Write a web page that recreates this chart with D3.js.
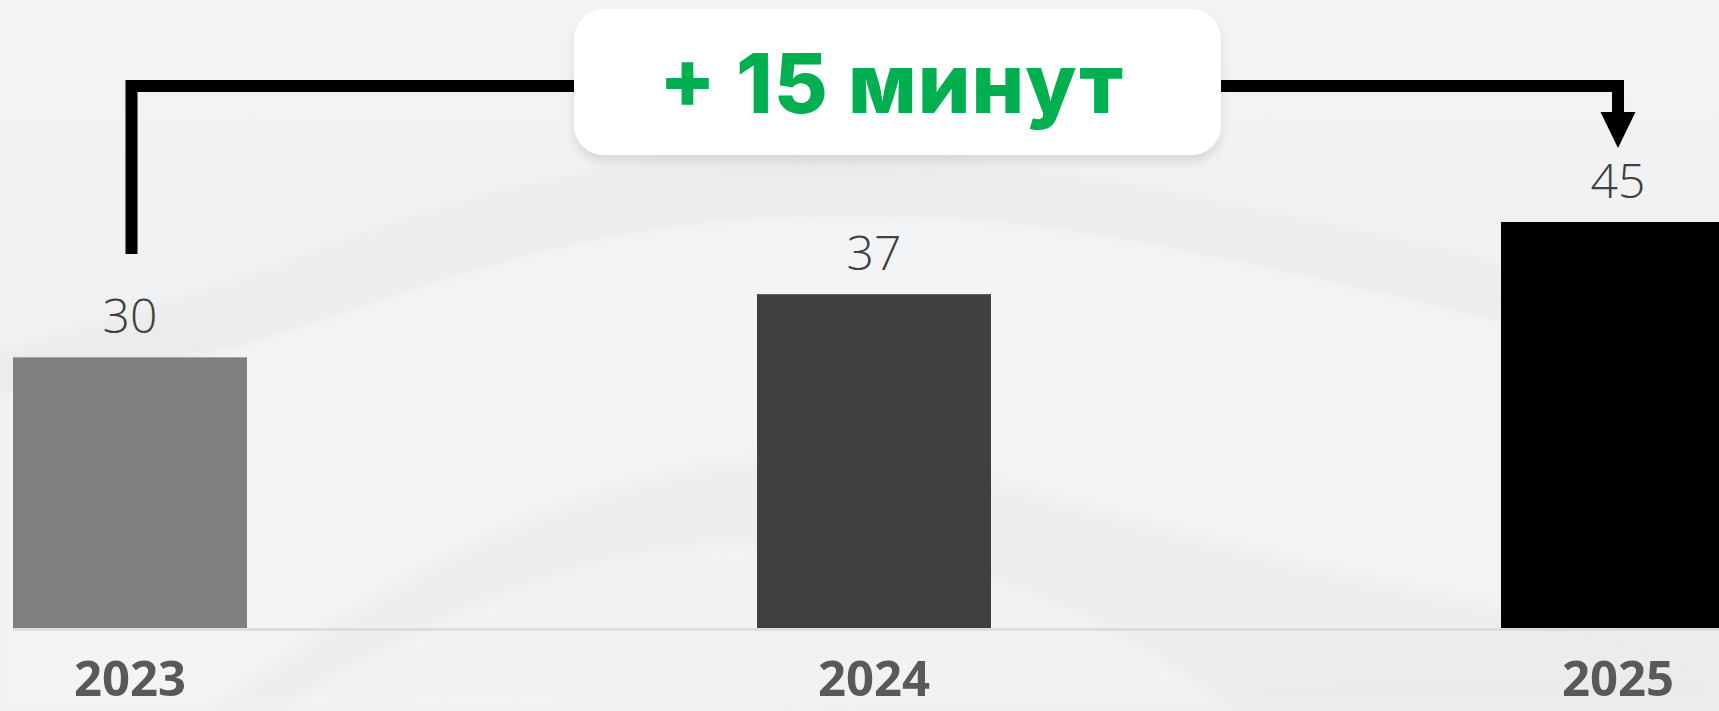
<!DOCTYPE html>
<html>
<head>
<meta charset="utf-8">
<script src="https://cdn.jsdelivr.net/npm/d3@7"></script>
<style>
  html, body { margin: 0; padding: 0; background: #eef0f1; overflow: hidden; }
  svg { display: block; }
</style>
</head>
<body>
<div id="chart"></div>
<script>
// Screen time growth, minutes per day by year
const years = ["2023", "2024", "2025"];
const minutes = [30, 37, 45];
const barColors = ["#7f7f7f", "#404040", "#000000"];
const deltaLabel = "+ 15 минут";

const width = 1719, height = 711;
const baseY = 628;

const svg = d3.select("#chart")
  .append("svg")
  .attr("width", width)
  .attr("height", height);

const defs = svg.append("defs");

const bgGrad = defs.append("linearGradient")
  .attr("id", "bg")
  .attr("x1", 0).attr("y1", 0).attr("x2", 0).attr("y2", 1);
bgGrad.append("stop").attr("offset", "0%").attr("stop-color", "#f2f3f4");
bgGrad.append("stop").attr("offset", "100%").attr("stop-color", "#edeef0");

const shadow = defs.append("filter")
  .attr("id", "shadow")
  .attr("x", "-10%").attr("y", "-20%")
  .attr("width", "120%").attr("height", "150%");
shadow.append("feDropShadow")
  .attr("dx", 0).attr("dy", 7)
  .attr("stdDeviation", 5)
  .attr("flood-color", "#000")
  .attr("flood-opacity", 0.1);

const blur = defs.append("filter").attr("id", "soft");
blur.append("feGaussianBlur").attr("stdDeviation", 6);

// Background with soft waves
svg.append("rect")
  .attr("width", width).attr("height", height)
  .attr("fill", "url(#bg)");

const wave = d3.line().curve(d3.curveBasis);
const waves = [
  { pts: [[0, 0.5], [0.12, 0.42], [0.28, 0.26], [0.45, 0.2], [0.62, 0.24], [0.8, 0.33], [1, 0.44], [1, 1], [0, 1]], fill: "#e7e9eb", op: 0.6 },
  { pts: [[0, 0.56], [0.14, 0.5], [0.32, 0.33], [0.5, 0.29], [0.66, 0.33], [0.85, 0.44], [1, 0.52], [1, 1], [0, 1]], fill: "#f5f6f7", op: 0.85 },
  { pts: [[0.12, 1], [0.22, 0.82], [0.36, 0.66], [0.5, 0.62], [0.62, 0.7], [0.8, 0.82], [1, 0.9], [1, 1]], fill: "#e8eaec", op: 0.5 },
  { pts: [[0.16, 1], [0.26, 0.86], [0.38, 0.76], [0.5, 0.76], [0.62, 0.84], [0.72, 1]], fill: "#f3f4f5", op: 0.7 }
];
waves.forEach(w => {
  svg.append("path")
    .attr("d", wave(w.pts.map(p => [p[0] * width, p[1] * height])) + "Z")
    .attr("fill", w.fill)
    .attr("opacity", w.op)
    .attr("filter", "url(#soft)");
});

// Scales
const x = d3.scaleBand()
  .domain(years)
  .range([13, 1735])
  .paddingInner(0.6855)
  .paddingOuter(0);

const y = d3.scaleLinear()
  .domain([0, 45])
  .range([baseY, 222]);

const cx = d => x(d) + x.bandwidth() / 2;

// Baseline
svg.append("line")
  .attr("x1", x(years[0])).attr("x2", width)
  .attr("y1", baseY + 1.5).attr("y2", baseY + 1.5)
  .attr("stroke", "#d9d9d9")
  .attr("stroke-width", 2.5);

// Bars
svg.selectAll(".bar")
  .data(years)
  .join("rect")
  .attr("class", "bar")
  .attr("x", d => x(d))
  .attr("y", (d, i) => y(minutes[i]))
  .attr("width", x.bandwidth())
  .attr("height", (d, i) => baseY - y(minutes[i]))
  .attr("fill", (d, i) => barColors[i]);

// Value labels
svg.selectAll(".value")
  .data(years)
  .join("text")
  .attr("class", "value")
  .attr("x", d => cx(d))
  .attr("y", (d, i) => y(minutes[i]) - 24)
  .attr("text-anchor", "middle")
  .style("font-family", "'Open Sans', sans-serif")
  .style("font-weight", 300)
  .style("font-size", "48px")
  .style("fill", "#404040")
  .text((d, i) => minutes[i]);

// Year labels
svg.selectAll(".year")
  .data(years)
  .join("text")
  .attr("class", "year")
  .attr("x", d => cx(d))
  .attr("y", 696)
  .attr("text-anchor", "middle")
  .style("font-family", "'Open Sans', sans-serif")
  .style("font-weight", 700)
  .style("font-size", "49px")
  .style("fill", "#595959")
  .text(d => d);

// Bracket from first to last bar
const bx0 = cx(years[0]) + 1.5;
const bx1 = cx(years[years.length - 1]);
const bracketY = 86;

svg.append("path")
  .attr("d", `M${bx0},254 V${bracketY} H${bx1} V114`)
  .attr("fill", "none")
  .attr("stroke", "#000")
  .attr("stroke-width", 12)
  .attr("stroke-linejoin", "miter");

svg.append("path")
  .attr("d", `M${bx1 - 17.5},112 L${bx1 + 17.5},112 L${bx1},148 Z`)
  .attr("fill", "#000");

// Delta box
svg.append("rect")
  .attr("x", 574).attr("y", 9)
  .attr("width", 647).attr("height", 146)
  .attr("rx", 30)
  .attr("fill", "#fff")
  .attr("filter", "url(#shadow)");

svg.append("text")
  .attr("x", 891)
  .attr("y", 113)
  .attr("text-anchor", "middle")
  .attr("textLength", 464)
  .attr("lengthAdjust", "spacing")
  .style("font-family", "Inter, sans-serif")
  .style("font-weight", 800)
  .style("font-size", "83px")
  .style("fill", "#00b050")
  .text(deltaLabel);
</script>
</body>
</html>
